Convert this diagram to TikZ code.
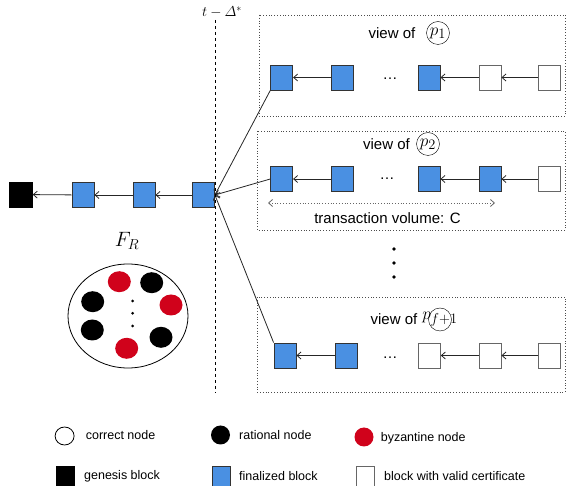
\documentclass[tikz,border=0pt]{standalone}
\usepackage{amsmath}
\usepackage{fontspec}
\setmainfont{Liberation Sans}
\usetikzlibrary{calc, shapes, arrows, arrows.meta}
\definecolor{finblue}{HTML}{4A90E2}
\definecolor{byzred}{HTML}{D0021B}

\begin{document}
\begin{tikzpicture}[x=1pt,y=-1pt]
\tikzstyle{genesis}=[rectangle,draw=black,fill=black,minimum width=23pt,minimum height=25pt,inner sep=0pt]
\tikzstyle{final}=[rectangle,draw=black!80,fill=finblue,minimum width=22pt,minimum height=25pt,inner sep=0pt,line width=0.8pt]
\tikzstyle{cert}=[rectangle,draw=black!60,fill=white,minimum width=22pt,minimum height=25pt,inner sep=0pt,line width=0.8pt]
\tikzstyle{rational}=[ellipse,fill=black,minimum width=23pt,minimum height=21pt,inner sep=0pt]
\tikzstyle{byz}=[ellipse,fill=byzred,minimum width=23pt,minimum height=21pt,inner sep=0pt]
\tikzstyle{link}=[-{Straight Barb[length=4pt,width=7pt]},draw=black!85,line width=0.8pt]
\tikzstyle{view}=[draw=black!70,dotted,line width=0.8pt]
\tikzstyle{viewtext}=[inner sep=0pt,font=\fontsize{15}{18}\selectfont]
\tikzstyle{pcirc}=[circle,draw,inner sep=0pt,minimum size=23pt,font=\fontsize{19}{22}\selectfont]
\tikzstyle{legend}=[anchor=west,inner sep=0pt,font=\fontsize{12.5}{15}\selectfont]
\useasboundingbox (0,0) rectangle (566,486);

% views
\draw[view] (259,15) rectangle (565,116);
\draw[view] (257,131) rectangle (565,230);
\draw[view] (257,297) rectangle (565,392);

\node[viewtext] (V1_t) at (392,33) {view of};
\node[pcirc] (V1_p) at (438,33) {\makebox[14pt]{$p_1$}};
\node[viewtext] (V2_t) at (386.5,144) {view of};
\node[pcirc] (V2_p) at (428,144) {\makebox[14pt]{$p_2$}};
\node[viewtext] (V3_t) at (394,319.5) {view of};
\node[pcirc] (V3_p) at (440,319.5) {\makebox[14pt]{$p_{f+1}$}};

% finalized chain
\node[genesis] (B_0) at (21,194.5) {};
\node[final] (B_1) at (83,195) {};
\node[final] (B_2) at (144,195) {};
\node[final] (B_3) at (203.5,195) {};
\draw[link] (B_1) -- (B_0);
\draw[link] (B_2) -- (B_1);
\draw[link] (B_3) -- (B_2);

\node[final] (V1_1) at (281.7,77.5) {};
\node[final] (V1_2) at (342.2,77.5) {};
\node[viewtext] (V1_d) at (390,78.3) {\dots};
\node[final] (V1_3) at (429,77.5) {};
\node[cert] (V1_4) at (490,77.5) {};
\node[cert] (V1_5) at (549.5,77.5) {};
\draw[link] (V1_2) -- (V1_1);
\draw[link] (V1_4) -- (V1_3);
\draw[link] (V1_5) -- (V1_4);

\node[final] (V2_1) at (281.7,179) {};
\node[final] (V2_2) at (342.2,179) {};
\node[viewtext] (V2_d) at (387,179) {\dots};
\node[final] (V2_3) at (429,179) {};
\node[final] (V2_4) at (490,179) {};
\node[cert] (V2_5) at (549.5,179) {};
\draw[link] (V2_2) -- (V2_1);
\draw[link] (V2_4) -- (V2_3);
\draw[link] (V2_5) -- (V2_4);

\node[final] (V3_1) at (285,355.5) {};
\node[final] (V3_2) at (346,355.5) {};
\node[viewtext] (V3_d) at (390,357.3) {\dots};
\node[cert] (V3_3) at (429.4,355.5) {};
\node[cert] (V3_4) at (490,355.5) {};
\node[cert] (V3_5) at (549.7,355.5) {};
\draw[link] (V3_2) -- (V3_1);
\draw[link] (V3_4) -- (V3_3);
\draw[link] (V3_5) -- (V3_4);

\draw[link] (V1_1.south west) -- (B_3.east);
\draw[link] (V2_1.west) -- (B_3.east);
\draw[link] (V3_1.north west) -- (B_3.east);

\coordinate (C_l) at (268,203);
\coordinate (C_r) at (495,203);
\draw[{Straight Barb[length=4pt,width=7pt]}-{Straight Barb[length=4pt,width=7pt]},dotted,draw=black!60,line width=0.8pt] (C_l) -- (C_r);
\node[viewtext] (C_t) at (387.5,218) {transaction volume: C};

\foreach \y in {249,263,277} \fill (394,\y) circle (1.8);

% time cut
\coordinate (T_top) at (215,20);
\coordinate (T_bot) at (215,393);
\draw[dashed,line width=0.8pt] (T_top) -- (T_bot);
\node[inner sep=0pt,font=\fontsize{14}{16}\selectfont] (T) at (222,12) {$t-\varDelta^*$};

% rational set
\node[inner sep=0pt,font=\fontsize{20}{22}\selectfont] (F_l) at (127,241) {$F_R$};
\node[ellipse,draw,line width=0.8pt,minimum width=120pt,minimum height=104pt] (F) at (128,316) {};
\node[byz] (R_1) at (119.3,281.7) {};
\node[rational] (R_2) at (151.7,282.7) {};
\node[rational] (R_3) at (92.7,301.7) {};
\node[byz] (R_4) at (171,305) {};
\node[rational] (R_5) at (92.3,330) {};
\node[rational] (R_6) at (161,337.3) {};
\node[byz] (R_7) at (126.7,348.3) {};
\foreach \y in {301,313.3,326} \fill (132.7,\y) circle (1.5);

% legend
\node[ellipse,draw,line width=0.8pt,minimum width=19pt,minimum height=18pt,inner sep=0pt] (L_1) at (64.6,436) {};
\node[legend] (L_1t) at (85.6,435) {correct node};
\node[rational,minimum width=19pt,minimum height=19pt] (L_2) at (220.5,435) {};
\node[legend] (L_2t) at (239,435) {rational node};
\node[byz,minimum width=19pt,minimum height=19pt] (L_3) at (364,437) {};
\node[legend] (L_3t) at (380.6,438) {byzantine node};
\node[genesis,minimum width=18pt,minimum height=20pt] (L_4) at (65,476) {};
\node[legend] (L_4t) at (84,476) {genesis block};
\node[final,minimum width=18pt,minimum height=20pt] (L_5) at (221,476) {};
\node[legend] (L_5t) at (239,476) {finalized block};
\node[cert,minimum width=18pt,minimum height=20pt] (L_6) at (365.5,476) {};
\node[legend] (L_6t) at (384,476) {block with valid certificate};
\end{tikzpicture}
\end{document}
